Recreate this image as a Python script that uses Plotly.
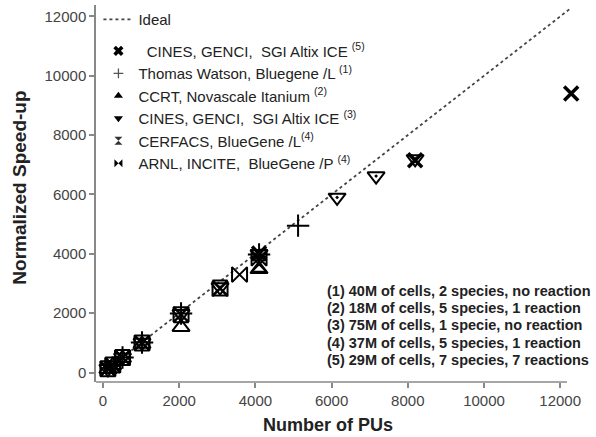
import plotly.graph_objects as go

# Ideal (linear) speed-up reference
ideal_x = [0, 12288]
ideal_y = [0, 12288]

# (5) CINES, GENCI, SGI Altix ICE
s5_x = [4096, 8192, 12288]
s5_y = [4010, 7150, 9400]

# (1) Thomas Watson, Bluegene/L
s1_x = [512, 1024, 2048, 4096, 5120]
s1_y = [505, 1015, 1990, 3980, 4950]

# (2) CCRT, Novascale Itanium
s2_x = [128, 256, 512, 1024, 2048, 4096]
s2_y = [115, 245, 490, 960, 1530, 3480]

# (3) CINES, GENCI, SGI Altix ICE
s3_x = [128, 256, 512, 1024, 2048, 3072, 4096, 6144, 7168, 8192]
s3_y = [128, 250, 510, 1010, 1980, 2880, 4000, 5900, 6620, 7200]

# (4) CERFACS, BlueGene/L
s4a_x = [128, 256, 512, 1024, 2048, 3072, 4096]
s4a_y = [125, 255, 505, 1000, 1950, 2850, 3650]

# (4) ARNL, INCITE, BlueGene/P
s4b_x = [128, 256, 512, 1024, 2048, 3072, 3584, 4096]
s4b_y = [126, 250, 500, 1000, 1960, 2820, 3300, 3850]

x_ticks = [0, 2000, 4000, 6000, 8000, 10000, 12000]
y_ticks = [0, 2000, 4000, 6000, 8000, 10000, 12000]

notes = [
    "(1) 40M of cells, 2 species, no reaction",
    "(2) 18M of cells, 5 species, 1 reaction",
    "(3) 75M of cells, 1 specie, no reaction",
    "(4) 37M of cells, 5 species, 1 reaction",
    "(5) 29M of cells, 7 species, 7 reactions",
]

NB = "\u00a0"
series = [
    # name, x, y, plot symbol, plot size, line width, legend symbol, legend size, legend colour
    (NB * 2 + "CINES, GENCI," + NB * 2 + "SGI Altix ICE <sup>(5)</sup>",
     s5_x, s5_y, "x-thin", 14, 3.5, "x", 9, "black"),
    ("Thomas Watson, Bluegene /L <sup>(1)</sup>",
     s1_x, s1_y, "cross-thin", 16, 2, "cross-thin", 7, "#555555"),
    ("CCRT, Novascale Itanium <sup>(2)</sup>",
     s2_x, s2_y, "triangle-up-open", 15, 2, "triangle-up", 8, "black"),
    ("CINES, GENCI," + NB * 2 + "SGI Altix ICE <sup>(3)</sup>",
     s3_x, s3_y, "triangle-down-open-dot", 15, 2, "triangle-down", 8, "black"),
    ("CERFACS, BlueGene /L<sup>(4)</sup>",
     s4a_x, s4a_y, "hourglass-open", 15, 2, "hourglass", 8, "#333333"),
    ("ARNL, INCITE," + NB * 2 + "BlueGene /P <sup>(4)</sup>",
     s4b_x, s4b_y, "bowtie-open", 15, 2, "bowtie", 8, "black"),
]

fig = go.Figure()

fig.add_trace(go.Scatter(
    x=ideal_x, y=ideal_y, mode="lines", name="Ideal",
    line=dict(color="#444444", width=1.8, dash="dot"),
    legendgroup="ideal", legendrank=1,
))

for i, (name, xs, ys, sym, size, lw, lsym, lsize, lcol) in enumerate(series):
    fig.add_trace(go.Scatter(
        x=xs, y=ys, mode="markers", showlegend=False, cliponaxis=False,
        marker=dict(symbol=sym, size=size, color="black",
                    line=dict(color="black", width=lw)),
    ))
    # compact filled symbol shown in the legend
    fig.add_trace(go.Scatter(
        x=[None], y=[None], mode="markers", name=name,
        legendgroup="data", legendrank=2 + i,
        marker=dict(symbol=lsym, size=lsize, color=lcol,
                    line=dict(color=lcol, width=1.3 if lsym == "cross-thin" else 0)),
    ))

FONT = "Liberation Sans, Arial, sans-serif"
axis_font = dict(family=FONT, size=15, color="#444444")

# notes block, one annotation per line
note_top = 0.2427
note_step = 0.0462
annotations = [
    dict(text="<b>" + n + "</b>", xref="paper", yref="paper",
         x=0.472, y=note_top - k * note_step, xanchor="left", yanchor="middle",
         align="left", showarrow=False,
         font=dict(size=14.5, color="#222222", family=FONT))
    for k, n in enumerate(notes)
]
annotations += [
    dict(text="<b>Number of PUs</b>", xref="paper", yref="paper",
         x=0.478, y=-0.1135, xanchor="center", yanchor="middle",
         showarrow=False, font=dict(size=18, color="#222222", family=FONT)),
    dict(text="<b>Normalized Speed-up</b>", xref="paper", yref="paper",
         x=-0.157, y=0.515, xanchor="center", yanchor="middle",
         textangle=-90, showarrow=False, font=dict(size=19, color="#222222", family=FONT)),
]

fig.update_layout(
    width=596, height=437,
    margin=dict(l=96, r=15, t=3, b=55),
    paper_bgcolor="white", plot_bgcolor="white",
    font=dict(family=FONT, color="black"),
    showlegend=True,
    legend=dict(
        x=0.005, y=1.005, xanchor="left", yanchor="top",
        bgcolor="rgba(0,0,0,0)", borderwidth=0,
        font=dict(size=15, color="#222222", family=FONT),
        tracegroupgap=9, traceorder="grouped",
    ),
    xaxis=dict(
        range=[-184, 12546], tickvals=x_ticks, ticktext=[str(v) for v in x_ticks],
        showgrid=False, zeroline=False, showline=False,
        ticks="outside", ticklen=5, tickwidth=1.5, tickcolor="#888888",
        tickfont=axis_font,
    ),
    yaxis=dict(
        range=[-318, 12385], tickvals=y_ticks, ticktext=[str(v) for v in y_ticks],
        showgrid=False, zeroline=False, showline=True, linecolor="#888888", linewidth=1.5,
        ticks="outside", ticklen=5, tickwidth=1.5, tickcolor="#888888",
        tickfont=axis_font,
    ),
    shapes=[dict(
        type="line", xref="paper", yref="paper",
        x0=0, x1=0.971, y0=0, y1=0,
        line=dict(color="#888888", width=1.5),
    )],
    annotations=annotations,
)

fig.write_html("out.html")
